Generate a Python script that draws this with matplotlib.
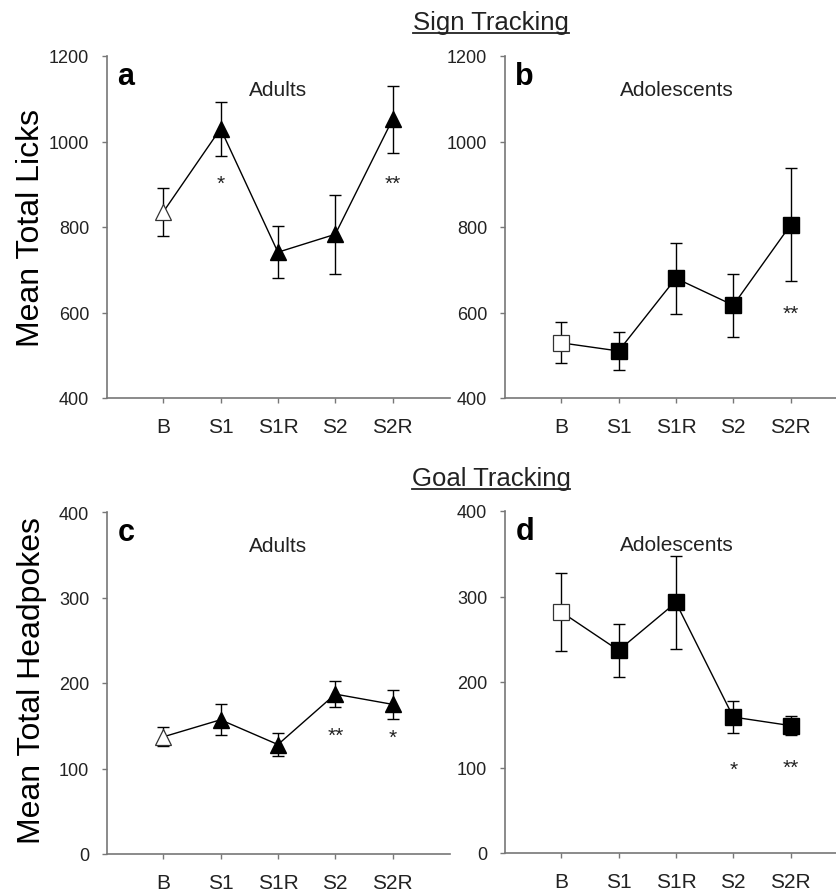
import matplotlib
matplotlib.use("Agg")
import matplotlib.pyplot as plt
from matplotlib.lines import Line2D

plt.rcParams['font.family'] = ['Liberation Sans', 'DejaVu Sans']

categories = ["B", "S1", "S1R", "S2", "S2R"]

# Sign tracking (licks)
adult_licks = [835, 1030, 741, 783, 1052]
adult_licks_err = [56, 63, 61, 93, 78]
adol_licks = [529, 510, 680, 617, 805]
adol_licks_err = [48, 44, 83, 74, 132]

# Goal tracking (headpokes)
adult_pokes = [137, 157, 128, 187, 175]
adult_pokes_err = [11, 18, 13, 15, 17]
adol_pokes = [282, 237, 293, 159, 149]
adol_pokes_err = [46, 31, 54, 19, 11]

# Significance marks: (category index, label, y position)
sig_a = [(1, "*", 902), (4, "**", 902)]
sig_b = [(4, "**", 598)]
sig_c = [(3, "**", 139), (4, "*", 136)]
sig_d = [(3, "*", 98), (4, "**", 100)]

W, H = 836, 895
fig = plt.figure(figsize=(W / 100, H / 100), dpi=100)

def px_axes(left, top, right, bottom):
    return fig.add_axes([left / W, 1 - bottom / H, (right - left) / W, (bottom - top) / H])

spine_col = "#777777"
text_col = "#222222"

def draw_panel(ax, vals, errs, marker, ylim, yticks, letter, title, sigs, msize):
    x = list(range(len(categories)))
    ax.errorbar(x, vals, yerr=errs, fmt="none", ecolor="black", elinewidth=1.0,
                capsize=4.5, capthick=1.0, zorder=2)
    ax.plot(x, vals, color="black", lw=1.0, zorder=3)
    ax.plot(x[1:], vals[1:], linestyle="none", marker=marker, markersize=msize,
            markerfacecolor="black", markeredgecolor="black", zorder=4)
    ax.plot(x[:1], vals[:1], linestyle="none", marker=marker, markersize=msize,
            markerfacecolor="white", markeredgecolor="#333333", markeredgewidth=0.9, zorder=4)
    ax.set_xlim(-0.98, 5.0)
    ax.set_ylim(*ylim)
    ax.set_yticks(yticks)
    ax.set_xticks(x)
    ax.set_xticklabels(categories)
    for s in ["top", "right"]:
        ax.spines[s].set_visible(False)
    for s in ["left", "bottom"]:
        ax.spines[s].set_color(spine_col)
        ax.spines[s].set_linewidth(1.2)
    ax.tick_params(axis="both", direction="out", length=3.8, width=1.0, color=spine_col,
                   labelcolor=text_col)
    ax.tick_params(axis="y", labelsize=13, pad=9)
    ax.tick_params(axis="x", labelsize=15, pad=10)
    ax.text(0.03, 0.985, letter, transform=ax.transAxes, fontsize=22, fontweight="bold",
            ha="left", va="top", color="black")
    ax.text(0.5, 0.93, title, transform=ax.transAxes, fontsize=15, ha="center", va="top",
            color=text_col)
    for i, lab, yv in sigs:
        ax.text(i, yv, lab, fontsize=15, ha="center", va="center", color=text_col)
    ax.patch.set_alpha(0)

ax_a = px_axes(107, 57, 450, 399)
ax_b = px_axes(505, 57, 848, 399)
ax_c = px_axes(107, 513, 450, 855)
ax_d = px_axes(505, 512, 848, 854)

draw_panel(ax_a, adult_licks, adult_licks_err, "^", (400, 1200), [400, 600, 800, 1000, 1200],
           "a", "Adults", sig_a, 12)
draw_panel(ax_b, adol_licks, adol_licks_err, "s", (400, 1200), [400, 600, 800, 1000, 1200],
           "b", "Adolescents", sig_b, 11)
draw_panel(ax_c, adult_pokes, adult_pokes_err, "^", (0, 400), [0, 100, 200, 300, 400],
           "c", "Adults", sig_c, 12)
draw_panel(ax_d, adol_pokes, adol_pokes_err, "s", (0, 400), [0, 100, 200, 300, 400],
           "d", "Adolescents", sig_d, 11)

ax_a.set_ylabel("Mean Total Licks", fontsize=23, color="black")
ax_a.yaxis.set_label_coords(-0.178, 0.50)
ax_c.set_ylabel("Mean Total Headpokes", fontsize=23, color="black")
ax_c.yaxis.set_label_coords(-0.176, 0.51)

t1 = fig.text(491 / W, 1 - 23 / H, "Sign Tracking", fontsize=18.5, ha="center", va="center",
              color=text_col)
t2 = fig.text(491 / W, 1 - 479 / H, "Goal Tracking", fontsize=18.5, ha="center", va="center",
              color=text_col)

fig.canvas.draw()
r = fig.canvas.get_renderer()
for t in (t1, t2):
    bb = t.get_window_extent(renderer=r)
    yline = bb.y0 + 1
    fig.add_artist(Line2D([bb.x0 / W, bb.x1 / W], [yline / H, yline / H],
                          transform=fig.transFigure, color=text_col, lw=1.3))

fig.savefig("out.png", dpi=100)
